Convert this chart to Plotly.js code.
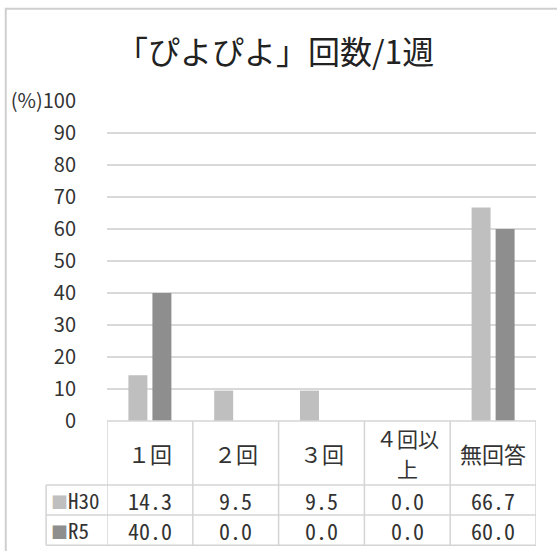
<!DOCTYPE html>
<html>
<head>
<meta charset="utf-8">
<script src="https://cdn.plot.ly/plotly-3.0.1.min.js"></script>
<style>
html,body{margin:0;padding:0;background:#fff;}
#chart{width:557px;height:551px;}
</style>
</head>
<body>
<div id="chart"></div>
<script>
// ---- data ----
const categories = ['１回', '２回', '３回', '４回以上', '無回答'];
const headerLines = [['１回'], ['２回'], ['３回'], ['４回以', '上'], ['無回答']];
const seriesNames = ['H30', 'R5'];
const h30 = [14.3, 9.5, 9.5, 0.0, 66.7];
const r5 = [40.0, 0.0, 0.0, 0.0, 60.0];
const yTickVals = [0, 10, 20, 30, 40, 50, 60, 70, 80, 90, 100];
const yTickText = ['0', '10', '20', '30', '40', '50', '60', '70', '80', '90', '(%)100'];
const titleText = '「ぴよぴよ」回数/1週';

// ---- styles ----
const colors = ['#bfbfbf', '#8e8e8e'];
const jp = '"Noto Sans CJK JP", "Noto Sans", sans-serif';
const numFont = '"Noto Sans Mono CJK JP", "Liberation Sans Narrow", "DejaVu Sans Condensed", sans-serif';
const textColor = '#333333';
const lineColor = '#d4d4d4';

const idx = categories.map((_, i) => i);
const traces = [h30, r5].map((vals, s) => ({
  type: 'bar',
  name: seriesNames[s],
  x: idx,
  y: vals,
  marker: {color: colors[s], line: {width: 0}},
  hoverinfo: 'skip'
}));

// table geometry in paper coords (plot: x 107..536px, y 101..421px)
const yHeaderTop = 0, yHeaderBot = -0.2, yRow1Bot = -0.294, yRow2Bot = -0.388;
const xLegendLeft = -0.142;
const shapes = [];
const n = categories.length;
shapes.push({type: 'line', xref: 'x', yref: 'paper', x0: -0.5, x1: n - 0.5, y0: yHeaderTop, y1: yHeaderTop, line: {color: lineColor, width: 1.5}});
[yHeaderBot, yRow1Bot, yRow2Bot].forEach(y => {
  shapes.push({type: 'line', xref: 'paper', yref: 'paper', x0: xLegendLeft, x1: 1, y0: y, y1: y, line: {color: lineColor, width: 1.5}});
});
for (let i = 0; i <= n; i++) {
  shapes.push({type: 'line', xref: 'x', yref: 'paper', x0: i - 0.5, x1: i - 0.5, y0: yHeaderTop, y1: yRow2Bot, line: {color: lineColor, width: 1.5}});
}
shapes.push({type: 'line', xref: 'paper', yref: 'paper', x0: xLegendLeft, x1: xLegendLeft, y0: yHeaderBot, y1: yRow2Bot, line: {color: lineColor, width: 1.5}});
// outer chart border
shapes.push({type: 'rect', xref: 'paper', yref: 'paper', x0: -0.236, x1: 1.2, y0: -0.6, y1: 1.288, line: {color: '#cfcfcf', width: 2}, fillcolor: 'rgba(0,0,0,0)'});

const annotations = [];
const headerMid = (yHeaderTop + yHeaderBot) / 2;
const lineStep = 30 / 320;
headerLines.forEach((lines, i) => {
  lines.forEach((t, k) => {
    const y = headerMid + ((lines.length - 1) / 2 - k) * lineStep;
    annotations.push({xref: 'x', yref: 'paper', x: i, y: y, text: t, showarrow: false, borderpad: 0,
      font: {family: jp, size: lines.length > 1 ? 21 : 22, color: textColor}, xanchor: 'center', yanchor: 'middle'});
  });
});
const rowsY = [(yHeaderBot + yRow1Bot) / 2, (yRow1Bot + yRow2Bot) / 2];
[h30, r5].forEach((vals, s) => {
  vals.forEach((v, i) => {
    annotations.push({xref: 'x', yref: 'paper', x: i, y: rowsY[s], text: v.toFixed(1), showarrow: false, borderpad: 0,
      font: {family: numFont, size: 22, color: textColor}, xanchor: 'center', yanchor: 'middle'});
  });
  annotations.push({xref: 'paper', yref: 'paper', x: xLegendLeft + 0.01, y: rowsY[s], borderpad: 0,
    text: '<span style="color:' + colors[s] + ';font-size:17px">■</span>' + seriesNames[s], showarrow: false,
    font: {family: numFont, size: 21, color: textColor}, xanchor: 'left', yanchor: 'middle'});
});

const layout = {
  width: 557, height: 551,
  margin: {l: 107, r: 21, t: 101, b: 130, pad: 0},
  paper_bgcolor: '#ffffff', plot_bgcolor: '#ffffff',
  showlegend: false,
  bargap: 0.44, bargroupgap: 0.21, barmode: 'group',
  title: {text: titleText, x: 0.494, xref: 'container', xanchor: 'center', y: 0.905, yref: 'container', yanchor: 'middle',
    font: {family: jp, size: 32, color: '#222222'}},
  xaxis: {range: [-0.5, n - 0.5], showticklabels: false, showgrid: false, zeroline: false, showline: false, ticks: '', fixedrange: true},
  yaxis: {range: [0, 100], tickvals: yTickVals, ticktext: yTickText, showgrid: true, gridcolor: '#d9d9d9', gridwidth: 1.5,
    zeroline: false, showline: false, ticks: 'outside', ticklen: 26, tickcolor: 'rgba(0,0,0,0)',
    tickfont: {family: jp, size: 20, color: textColor}, fixedrange: true},
  shapes: shapes,
  annotations: annotations
};

Plotly.newPlot('chart', traces, layout, {displayModeBar: false, staticPlot: true});
</script>
</body>
</html>
